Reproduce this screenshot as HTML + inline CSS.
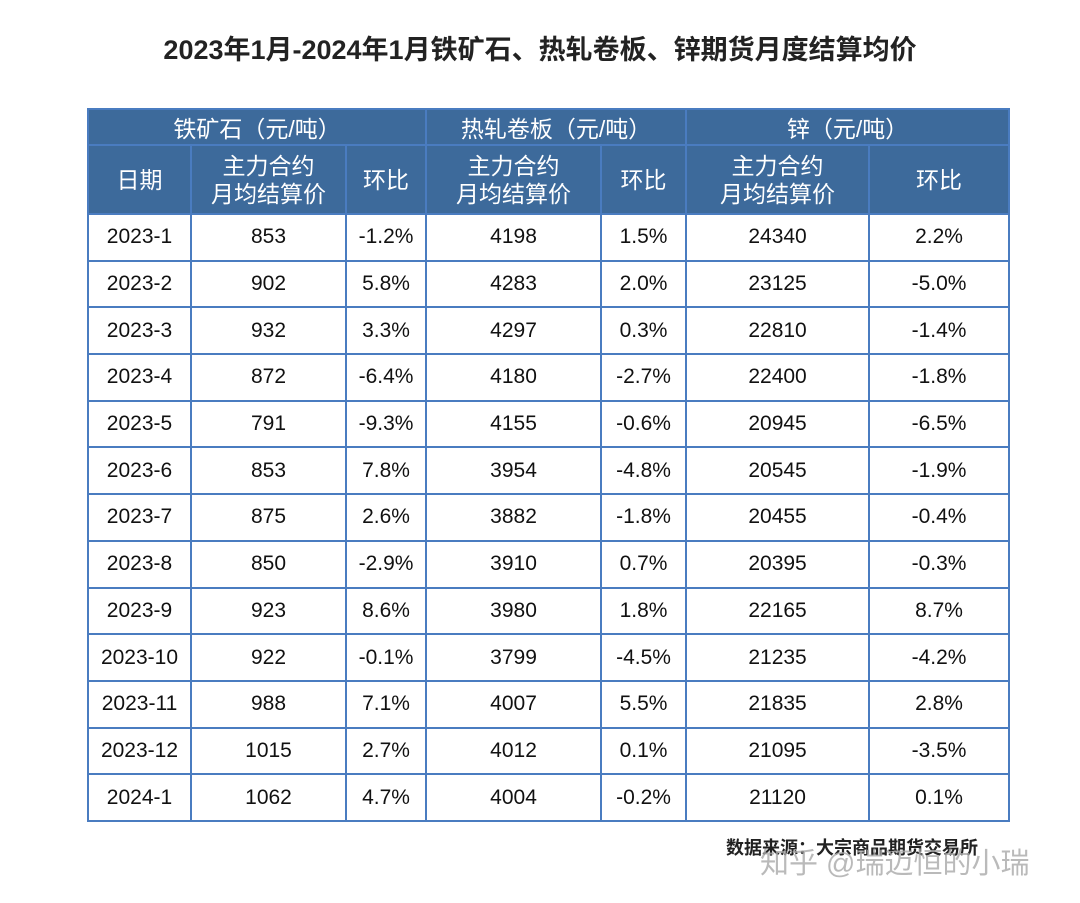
<!DOCTYPE html><html><head><meta charset="utf-8"><style>
body{margin:0;width:1080px;height:903px;background:#fff;position:relative;overflow:hidden;font-family:"Liberation Sans","Noto Sans CJK SC",sans-serif}
.t{position:absolute;left:0;top:28px;width:1080px;text-align:center;font-size:27px;font-weight:bold;color:#222}
table{position:absolute;left:87px;top:108px;border-collapse:collapse;table-layout:fixed;width:921px}
td{border:2px solid #4a7cc0;text-align:center;font-size:21px;color:#111;padding:0;height:44.7px}
tr.h td{background:#3d6a9b;color:#fff;font-size:23px}
tr.h1 td{height:33px}
tr.h2 td{height:67px;line-height:28px}
.src{position:absolute;left:726px;top:834px;font-size:18px;color:#222;font-weight:bold}
.zh{position:absolute;left:760px;top:840px;font-size:29px;color:#aaa;opacity:.8}
</style></head><body>
<div class="t">2023年1月-2024年1月铁矿石、热轧卷板、锌期货月度结算均价</div>
<table>
<colgroup><col style="width:103px"><col style="width:155px"><col style="width:80px"><col style="width:175px"><col style="width:85px"><col style="width:183px"><col style="width:140px"></colgroup>
<tr class="h h1"><td colspan="3">铁矿石（元/吨）</td><td colspan="2">热轧卷板（元/吨）</td><td colspan="2">锌（元/吨）</td></tr>
<tr class="h h2"><td>日期</td><td>主力合约<br>月均结算价</td><td>环比</td><td>主力合约<br>月均结算价</td><td>环比</td><td>主力合约<br>月均结算价</td><td>环比</td></tr>
<tr><td>2023-1</td><td>853</td><td>-1.2%</td><td>4198</td><td>1.5%</td><td>24340</td><td>2.2%</td></tr>
<tr><td>2023-2</td><td>902</td><td>5.8%</td><td>4283</td><td>2.0%</td><td>23125</td><td>-5.0%</td></tr>
<tr><td>2023-3</td><td>932</td><td>3.3%</td><td>4297</td><td>0.3%</td><td>22810</td><td>-1.4%</td></tr>
<tr><td>2023-4</td><td>872</td><td>-6.4%</td><td>4180</td><td>-2.7%</td><td>22400</td><td>-1.8%</td></tr>
<tr><td>2023-5</td><td>791</td><td>-9.3%</td><td>4155</td><td>-0.6%</td><td>20945</td><td>-6.5%</td></tr>
<tr><td>2023-6</td><td>853</td><td>7.8%</td><td>3954</td><td>-4.8%</td><td>20545</td><td>-1.9%</td></tr>
<tr><td>2023-7</td><td>875</td><td>2.6%</td><td>3882</td><td>-1.8%</td><td>20455</td><td>-0.4%</td></tr>
<tr><td>2023-8</td><td>850</td><td>-2.9%</td><td>3910</td><td>0.7%</td><td>20395</td><td>-0.3%</td></tr>
<tr><td>2023-9</td><td>923</td><td>8.6%</td><td>3980</td><td>1.8%</td><td>22165</td><td>8.7%</td></tr>
<tr><td>2023-10</td><td>922</td><td>-0.1%</td><td>3799</td><td>-4.5%</td><td>21235</td><td>-4.2%</td></tr>
<tr><td>2023-11</td><td>988</td><td>7.1%</td><td>4007</td><td>5.5%</td><td>21835</td><td>2.8%</td></tr>
<tr><td>2023-12</td><td>1015</td><td>2.7%</td><td>4012</td><td>0.1%</td><td>21095</td><td>-3.5%</td></tr>
<tr><td>2024-1</td><td>1062</td><td>4.7%</td><td>4004</td><td>-0.2%</td><td>21120</td><td>0.1%</td></tr>
</table>
<div class="src">数据来源：大宗商品期货交易所</div>
<div class="zh">知乎 @瑞迈恒的小瑞</div>
</body></html>
